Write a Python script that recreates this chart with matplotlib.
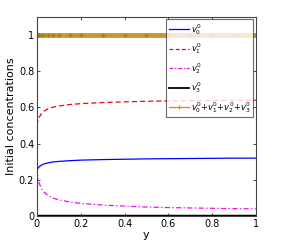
import matplotlib
matplotlib.use("Agg")
import matplotlib.pyplot as plt
from matplotlib.lines import Line2D
import numpy as np

# y positions and values
y = [0, 0.005, 0.01, 0.02, 0.03, 0.05, 0.075, 0.1, 0.15, 0.2, 0.3, 0.4, 0.5, 0.6, 0.7, 0.8, 0.9, 1.0]
v0 = [0.25, 0.265, 0.272, 0.281, 0.287, 0.294, 0.299, 0.302, 0.306, 0.309, 0.312, 0.314, 0.316, 0.317, 0.318, 0.319, 0.320, 0.320]
v1 = [0.50, 0.53, 0.545, 0.565, 0.578, 0.592, 0.602, 0.608, 0.616, 0.621, 0.627, 0.631, 0.634, 0.636, 0.637, 0.638, 0.639, 0.640]
v2 = [0.25, 0.205, 0.183, 0.154, 0.135, 0.114, 0.099, 0.090, 0.078, 0.070, 0.061, 0.055, 0.050, 0.047, 0.045, 0.043, 0.041, 0.040]
v3 = [0.0] * len(y)
total = np.array(v0) + np.array(v1) + np.array(v2) + np.array(v3)

labels = [r"$v^0_0$", r"$v^0_1$", r"$v^0_2$", r"$v^0_3$", r"$v^0_0$+$v^0_1$+$v^0_2$+$v^0_3$"]

plt.rcParams["font.size"] = 7
fig = plt.figure(figsize=(2.84, 2.45), dpi=100)
ax = fig.add_axes([0.130, 0.118, 0.771, 0.813])

gold = "#c8962e"
ax.plot(y, total, color=gold, lw=3.5, solid_capstyle="butt")
ax.plot(y, total, color="#a87818", lw=0, marker="+", ms=3, mew=0.8)
ax.plot(y, v0, color="#0000ff", lw=0.9)
ax.plot(y, v1, color="#ff0000", lw=0.9, ls=(0, (4, 2.5)))
ax.plot(y, v2, color="#ff00ff", lw=0.9, ls=(0, (4, 2, 1, 2)))
ax.plot(y, v3, color="black", lw=2.5, solid_capstyle="butt")

handles = [
    Line2D([], [], color="#0000ff", lw=0.9),
    Line2D([], [], color="#ff0000", lw=0.9, ls=(0, (3, 2))),
    Line2D([], [], color="#ff00ff", lw=0.9, ls=(0, (3, 1.5, 1, 1.5))),
    Line2D([], [], color="black", lw=1.3),
    Line2D([], [], color=gold, lw=1.0, marker="+", ms=3, mew=0.8, markevery=[1]),
]

ax.set_xlim(0, 1)
ax.set_ylim(0, 1.1)
ax.set_xticks([0, 0.2, 0.4, 0.6, 0.8, 1])
ax.set_xticklabels(["0", "0.2", "0.4", "0.6", "0.8", "1"])
ax.set_yticks([0, 0.2, 0.4, 0.6, 0.8, 1])
ax.set_yticklabels(["0", "0.2", "0.4", "0.6", "0.8", "1"])
ax.tick_params(direction="in", length=2, width=0.5, pad=2, top=True, right=True)
for s in ax.spines.values():
    s.set_linewidth(0.8)
    s.set_color("#444444")

ax.set_xlabel("y", fontsize=8, labelpad=1)
ax.set_ylabel("Initial concentrations", fontsize=8, labelpad=2)

leg = ax.legend(handles, labels, loc="upper right", fontsize=6, frameon=True,
                fancybox=False, borderpad=0.3, labelspacing=0.55,
                handlelength=2.4, handletextpad=0.3, borderaxespad=0.3)
leg.get_frame().set_edgecolor("#444444")
leg.get_frame().set_linewidth(0.8)

fig.savefig("out.png", dpi=100)
